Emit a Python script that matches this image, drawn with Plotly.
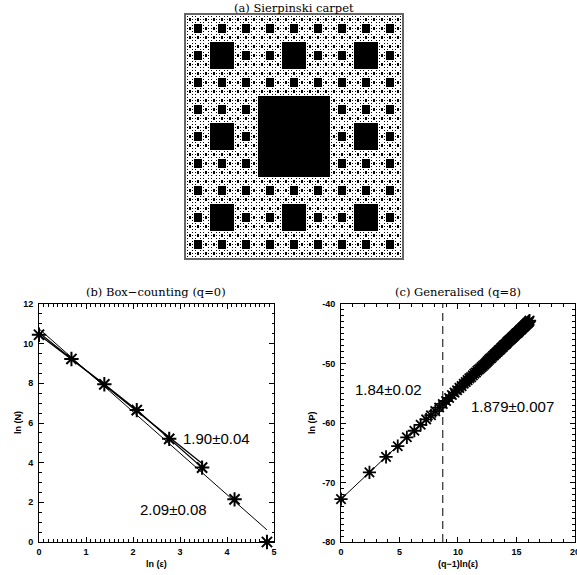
import numpy as np
import plotly.graph_objects as go

# ---------------- data ----------------
# (a) Sierpinski carpet level
carpet_level = 5

# (b) Box-counting (q=0)
box_ln_eps = [0.0, 0.69, 1.39, 2.08, 2.77, 3.47, 4.16, 4.85]
box_ln_N = [10.45, 9.23, 7.95, 6.65, 5.20, 3.75, 2.15, 0.0]
fit_190_x = [0.0, 3.47]
fit_190_y = [10.55, 3.96]
fit_209_x = [0.0, 4.85]
fit_209_y = [10.75, 0.61]

# (c) Generalised (q=8)
gen_x = [0.00, 2.43, 3.85, 4.85, 5.63, 6.27, 6.81, 7.28, 7.69, 8.06,
         8.39, 8.70, 8.98, 9.24, 9.48, 9.70, 9.92, 10.12, 10.31, 10.49,
         10.66, 10.82, 10.97, 11.12, 11.27, 11.40, 11.54, 11.66, 11.79, 11.90,
         12.02, 12.13, 12.24, 12.34, 12.44, 12.54, 12.64, 12.73, 12.82, 12.91,
         13.00, 13.08, 13.16, 13.24, 13.32, 13.40, 13.48, 13.55, 13.62, 13.69,
         13.76, 13.83, 13.90, 13.96, 14.03, 14.09, 14.15, 14.21, 14.27, 14.33,
         14.39, 14.44, 14.50, 14.56, 14.61, 14.66, 14.72, 14.77, 14.82, 14.87,
         14.92, 14.97, 15.02, 15.06, 15.11, 15.16, 15.20, 15.25, 15.29, 15.34,
         15.38, 15.42, 15.47, 15.51, 15.55, 15.59, 15.63, 15.67, 15.71, 15.75,
         15.79, 15.83, 15.86, 15.90, 15.94, 15.98, 16.01, 16.05, 16.08, 16.12]
gen_y = [-72.8, -68.3, -65.7, -63.9, -62.4, -61.3, -60.3, -59.4, -58.7, -58.0,
         -57.4, -56.8, -56.3, -55.8, -55.3, -54.9, -54.5, -54.1, -53.8, -53.4,
         -53.1, -52.8, -52.5, -52.3, -52.0, -51.7, -51.5, -51.2, -51.0, -50.8,
         -50.6, -50.4, -50.2, -50.0, -49.8, -49.6, -49.4, -49.2, -49.1, -48.9,
         -48.7, -48.6, -48.4, -48.3, -48.1, -48.0, -47.8, -47.7, -47.6, -47.4,
         -47.3, -47.2, -47.0, -46.9, -46.8, -46.7, -46.6, -46.4, -46.3, -46.2,
         -46.1, -46.0, -45.9, -45.8, -45.7, -45.6, -45.5, -45.4, -45.3, -45.2,
         -45.1, -45.0, -44.9, -44.9, -44.8, -44.7, -44.6, -44.5, -44.4, -44.3,
         -44.3, -44.2, -44.1, -44.0, -43.9, -43.9, -43.8, -43.7, -43.6, -43.6,
         -43.5, -43.4, -43.3, -43.3, -43.2, -43.1, -43.1, -43.0, -42.9, -42.8]
break_x = 8.7
gen_yrange = [-80, -40]

# tick labels
b_xticks = [0, 1, 2, 3, 4, 5]
b_yticks = [0, 2, 4, 6, 8, 10, 12]
c_xticks = [0, 5, 10, 15, 20]
c_yticks = [-80, -70, -60, -50, -40]
c_yticktext = ["-80", "-70", "-60", "-50", "-40"]


def make_carpet(level):
    n = 3 ** level
    img = np.ones((n, n))
    idx = np.arange(n)
    for k in range(level):
        d = (idx // 3 ** k) % 3 == 1
        img[np.ix_(d, d)] = 0
    return img


img = make_carpet(carpet_level)
n = img.shape[0]

fig = go.Figure()

fig.add_trace(go.Heatmap(z=img, colorscale=[[0, "black"], [1, "white"]],
                         showscale=False, hoverinfo="skip", xaxis="x", yaxis="y"))

# panel b
fig.add_trace(go.Scatter(x=fit_209_x, y=fit_209_y, mode="lines",
                         line=dict(color="black", width=1), xaxis="x2", yaxis="y2"))
fig.add_trace(go.Scatter(x=fit_190_x, y=fit_190_y, mode="lines",
                         line=dict(color="black", width=1.3), xaxis="x2", yaxis="y2"))
fig.add_trace(go.Scatter(x=box_ln_eps[:6], y=box_ln_N[:6], mode="lines",
                         line=dict(color="black", width=1.3), xaxis="x2", yaxis="y2"))
fig.add_trace(go.Scatter(x=box_ln_eps, y=box_ln_N, mode="markers",
                         marker=dict(symbol="asterisk-open", size=12, color="black",
                                     line=dict(color="black", width=2)),
                         cliponaxis=False, xaxis="x2", yaxis="y2"))

# panel c
fig.add_trace(go.Scatter(x=[break_x, break_x], y=gen_yrange, mode="lines",
                         line=dict(color="black", width=1, dash="8px,5px"),
                         xaxis="x3", yaxis="y3"))
fig.add_trace(go.Scatter(x=gen_x, y=gen_y, mode="lines+markers",
                         line=dict(color="black", width=1),
                         marker=dict(symbol="asterisk-open", size=11, color="black",
                                     line=dict(color="black", width=1.8)),
                         cliponaxis=False, xaxis="x3", yaxis="y3"))

tickfont = dict(family="Liberation Sans", size=9, color="black", weight="bold")


def frame_axis(domain, rng, tickvals, minor_dtick, anchor, standoff, ticktext=None):
    d = dict(domain=domain, range=rng, anchor=anchor, tickmode="array",
             tickvals=tickvals, ticks="inside", ticklen=5, tickwidth=1,
             tickcolor="black", showline=True, linecolor="black", linewidth=1,
             mirror="ticks", showgrid=False, zeroline=False, tickfont=tickfont,
             automargin=False, ticklabelstandoff=standoff, ticklabeloverflow="allow",
             minor=dict(tickmode="linear", tick0=0, dtick=minor_dtick, ticks="inside",
                        ticklen=2.5, tickwidth=1, tickcolor="black", showgrid=False))
    if ticktext is not None:
        d["ticktext"] = ticktext
    return d


fig.update_layout(
    width=577, height=575,
    margin=dict(l=0, r=0, t=0, b=0, autoexpand=False),
    paper_bgcolor="white", plot_bgcolor="white",
    showlegend=False,
    xaxis=dict(domain=[0.3224, 0.6967], range=[-0.5, n - 0.5], anchor="y",
               showticklabels=False, ticks="", showgrid=False, zeroline=False,
               automargin=False,
               showline=True, mirror=True, linecolor="#666666", linewidth=1.5),
    yaxis=dict(domain=[0.5513, 0.9739], range=[-0.5, n - 0.5], anchor="x",
               showticklabels=False, ticks="", showgrid=False, zeroline=False,
               automargin=False,
               showline=True, mirror=True, linecolor="#666666", linewidth=1.5),
    xaxis2=frame_axis([0.0676, 0.4749], [0, 5], b_xticks, 0.1, "y2", 1),
    yaxis2=frame_axis([0.0574, 0.4713], [0, 12], b_yticks, 0.5, "x2", 3),
    xaxis3=frame_axis([0.591, 0.9965], [0, 20], c_xticks, 1, "y3", 1),
    yaxis3=frame_axis([0.0574, 0.4713], gen_yrange, c_yticks, 1, "x3", 3, c_yticktext),
)

titlefont = dict(family="DejaVu Serif", size=11.5, color="black")
labelfont = dict(family="Liberation Sans", size=9, color="black", weight="bold")
numfont = dict(family="Liberation Sans", size=15, color="black")

ann = [
    dict(text="(a) Sierpinski carpet", x=294 / 577, y=1 - 8 / 575, font=titlefont),
    dict(text="(b) Box\u2212counting (q=0)", x=156 / 577, y=1 - 292 / 575, font=titlefont),
    dict(text="(c) Generalised (q=8)", x=458 / 577, y=1 - 292 / 575, font=titlefont),
    dict(text="ln (\u03b5)", x=156 / 577, y=1 - 564 / 575, font=labelfont),
    dict(text="(q\u22121)ln(\u03b5)", x=458 / 577, y=1 - 564 / 575, font=labelfont),
    dict(text="ln (N)", x=18 / 577, y=1 - 423 / 575, font=labelfont, textangle=-90),
    dict(text="ln (P)", x=312 / 577, y=1 - 423 / 575, font=labelfont, textangle=-90),
]
annotations = [dict(a, xref="paper", yref="paper", showarrow=False,
                    xanchor="center", yanchor="middle") for a in ann]
annotations += [
    dict(text="1.90\u00b10.04", x=3.77, y=5.2, xref="x2", yref="y2", font=numfont),
    dict(text="2.09\u00b10.08", x=2.87, y=1.66, xref="x2", yref="y2", font=numfont),
    dict(text="1.84\u00b10.02", x=4.1, y=-54.3, xref="x3", yref="y3", font=numfont),
    dict(text="1.879\u00b10.007", x=14.7, y=-57.3, xref="x3", yref="y3", font=numfont),
]
for a in annotations[-4:]:
    a.update(showarrow=False, xanchor="center", yanchor="middle")
fig.update_layout(annotations=annotations)

fig.write_html("out.html", config={"displayModeBar": False},
               post_script="document.body.style.margin='0px';")
